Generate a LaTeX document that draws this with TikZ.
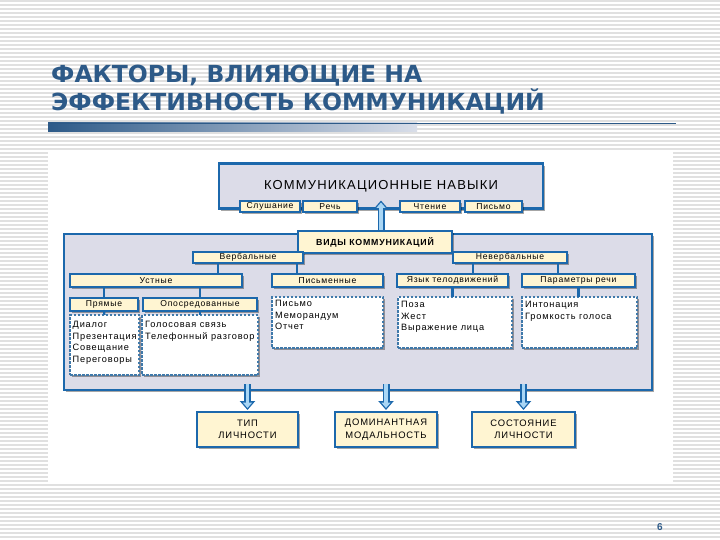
\documentclass[tikz,border=0pt]{standalone}
\usepackage{fontspec}
\setmainfont[LetterSpace=9]{Liberation Sans}
\newfontfamily\titlefont{DejaVu Sans}
\usetikzlibrary{shadows,arrows.meta}
\definecolor{tblue}{HTML}{2D5A88}
\definecolor{bdr}{HTML}{1C68AC}
\definecolor{cream}{HTML}{FFF5D2}
\definecolor{lav}{HTML}{DCDCE8}
\definecolor{dbdr}{HTML}{3F79AA}
\definecolor{abl}{HTML}{A9D6F5}
\definecolor{stripe}{HTML}{E0E0E0}
\definecolor{barend}{HTML}{D9DEE9}
\tikzset{
  shd/.style={drop shadow={shadow xshift=2.2pt,shadow yshift=-2.2pt,fill=black,opacity=0.35}},
  panel/.style={draw=bdr,line width=2.6pt,fill=lav,shd,inner sep=0pt,outer sep=0pt},
  sbox/.style={draw=bdr,line width=2.2pt,fill=cream,shd,inner sep=0pt,outer sep=0pt,font=\fontsize{8.6}{10}\selectfont},
  lbox/.style={draw=dbdr,line width=1.8pt,dash pattern=on 2.5pt off 1.5pt,fill=white,shd,inner sep=0pt,outer sep=0pt},
  ltext/.style={inner sep=0pt,align=left,anchor=north west,font=\fontsize{9.2}{11.6}\selectfont},
  tick/.style={draw=bdr,line width=2.2pt},
  fatout/.style={draw=bdr,line width=7pt,-{Triangle[length=9pt,width=15pt]}},
  fatin/.style={draw=abl,line width=3.4pt,shorten >=2pt,-{Triangle[length=5.5pt,width=9pt]}},
}
\begin{document}
\begin{tikzpicture}[x=1pt,y=-1pt]
\useasboundingbox (0,0) rectangle (720,540);
\fill[white] (0,0) rectangle (720,540);
\foreach \yy in {1,5,...,537} \draw[stripe,line width=1.4pt] (0,\yy) -- (720,\yy);
\fill[white] (48,152) rectangle (673,483);
% title
\node[anchor=base west,inner sep=0pt,text=tblue,font=\titlefont\bfseries\fontsize{23.5}{28}\selectfont] (title1) at (51,83) {ФАКТОРЫ, ВЛИЯЮЩИЕ НА};
\node[anchor=base west,inner sep=0pt,text=tblue,font=\titlefont\bfseries\fontsize{23.5}{28}\selectfont] (title2) at (51,111) {ЭФФЕКТИВНОСТЬ КОММУНИКАЦИЙ};
\shade[left color=tblue,right color=barend] (48,123) rectangle (417,132);
\draw[tblue,line width=0.8pt] (48,123) -- (676,123);
% panels
\node[panel,minimum width=588pt,minimum height=156pt] (big) at (358,312) {};
\node[panel,minimum width=324pt,minimum height=45pt,font=\fontsize{13}{15}\selectfont] (skills) at (381,186) {КОММУНИКАЦИОННЫЕ НАВЫКИ};
\node[sbox,minimum width=60pt,minimum height=11pt] (listen) at (270,206.5) {Слушание};
\node[sbox,minimum width=54pt,minimum height=11pt] (speech) at (330,206.5) {Речь};
\node[sbox,minimum width=60pt,minimum height=11pt] (read) at (430,206.5) {Чтение};
\node[sbox,minimum width=57pt,minimum height=11pt] (write) at (493.5,206.5) {Письмо};
% arrow up
\coordinate (upend) at ([yshift=8pt]skills.south);
\draw[fatout] (skills.south |- big.north) -- (upend);
\draw[fatin] (skills.south |- big.north) -- (upend);
\node[sbox,line width=2.6pt,minimum width=154pt,minimum height=22pt,font=\bfseries\fontsize{8.8}{10}\selectfont] (vidy) at (375,242) {ВИДЫ КОММУНИКАЦИЙ};
% level 1
\node[sbox,minimum width=110pt,minimum height=11pt] (verb) at (248,257.5) {Вербальные};
\node[sbox,minimum width=114pt,minimum height=11pt] (nverb) at (510,257.5) {Невербальные};
% level 2
\node[sbox,minimum width=172pt,minimum height=13pt] (oral) at (156,280.5) {Устные};
\node[sbox,minimum width=111pt,minimum height=13pt] (writ) at (327.5,280.5) {Письменные};
\node[sbox,minimum width=111pt,minimum height=13pt] (body) at (452.5,280.5) {Язык телодвижений};
\node[sbox,minimum width=113pt,minimum height=13pt] (param) at (578.5,280.5) {Параметры речи};
% level 3
\node[sbox,minimum width=68pt,minimum height=13pt] (direct) at (104,304.5) {Прямые};
\node[sbox,minimum width=114pt,minimum height=13pt] (indir) at (200,304.5) {Опосредованные};
% lists
\node[lbox,minimum width=69pt,minimum height=60pt] (directL) at (104.5,345) {};
\node[ltext] (directT) at ([xshift=2.5pt,yshift=-6pt]directL.north west) {Диалог\\Презентация\\Совещание\\Переговоры};
\node[lbox,minimum width=116pt,minimum height=60pt] (indirL) at (200,345) {};
\node[ltext] (indirT) at ([xshift=3pt,yshift=-6pt]indirL.north west) {Голосовая связь\\Телефонный разговор};
\node[lbox,minimum width=111pt,minimum height=51pt] (writL) at (327.5,322.5) {};
\node[ltext] (writT) at ([xshift=3pt,yshift=-3pt]writL.north west) {Письмо\\Меморандум\\Отчет};
\node[lbox,minimum width=114pt,minimum height=51pt] (bodyL) at (455,322.5) {};
\node[ltext] (bodyT) at ([xshift=3pt,yshift=-4pt]bodyL.north west) {Поза\\Жест\\Выражение лица};
\node[lbox,minimum width=115pt,minimum height=51pt] (paramL) at (579.5,322.5) {};
\node[ltext] (paramT) at ([xshift=3pt,yshift=-4pt]paramL.north west) {Интонация\\Громкость голоса};
% ticks
\draw[tick] ([xshift=-30pt]verb.south) -- ([xshift=-30pt]verb.south |- oral.north);
\draw[tick] ([xshift=49pt]verb.south) -- ([xshift=49pt]verb.south |- writ.north);
\draw[tick] ([xshift=-37pt]nverb.south) -- ([xshift=-37pt]nverb.south |- body.north);
\draw[tick] ([xshift=48pt]nverb.south) -- ([xshift=48pt]nverb.south |- param.north);
\draw[tick] (direct.north |- oral.south) -- (direct.north);
\draw[tick] (indir.north |- oral.south) -- (indir.north);
\draw[tick] (direct.south) -- (directL.north);
\draw[tick] (indir.south) -- (indirL.north);
\draw[tick] (body.south) -- (body.south |- bodyL.north);
\draw[tick] (param.south) -- (param.south |- paramL.north);
% bottom boxes
\node[sbox,line width=2.8pt,minimum width=101pt,minimum height=35pt,align=center,font=\fontsize{9.4}{12.5}\selectfont] (type) at (247.5,429.5) {ТИП\\ЛИЧНОСТИ};
\node[sbox,line width=2.8pt,minimum width=102pt,minimum height=35pt,align=center,font=\fontsize{9.4}{12.5}\selectfont] (modal) at (386,429.5) {ДОМИНАНТНАЯ\\МОДАЛЬНОСТЬ};
\node[sbox,line width=2.8pt,minimum width=103pt,minimum height=35pt,align=center,font=\fontsize{9.4}{12.5}\selectfont] (state) at (523.5,429.5) {СОСТОЯНИЕ\\ЛИЧНОСТИ};
% down arrows
\foreach \n in {type,modal,state}{
  \draw[fatout] ([yshift=6pt]\n.north |- big.south) -- ([yshift=2pt]\n.north);
  \draw[fatin] ([yshift=6pt]\n.north |- big.south) -- ([yshift=2pt]\n.north);
}
\node[text=tblue,font=\bfseries\fontsize{10}{12}\selectfont] (pnum) at (660,527) {6};
\end{tikzpicture}
\end{document}
